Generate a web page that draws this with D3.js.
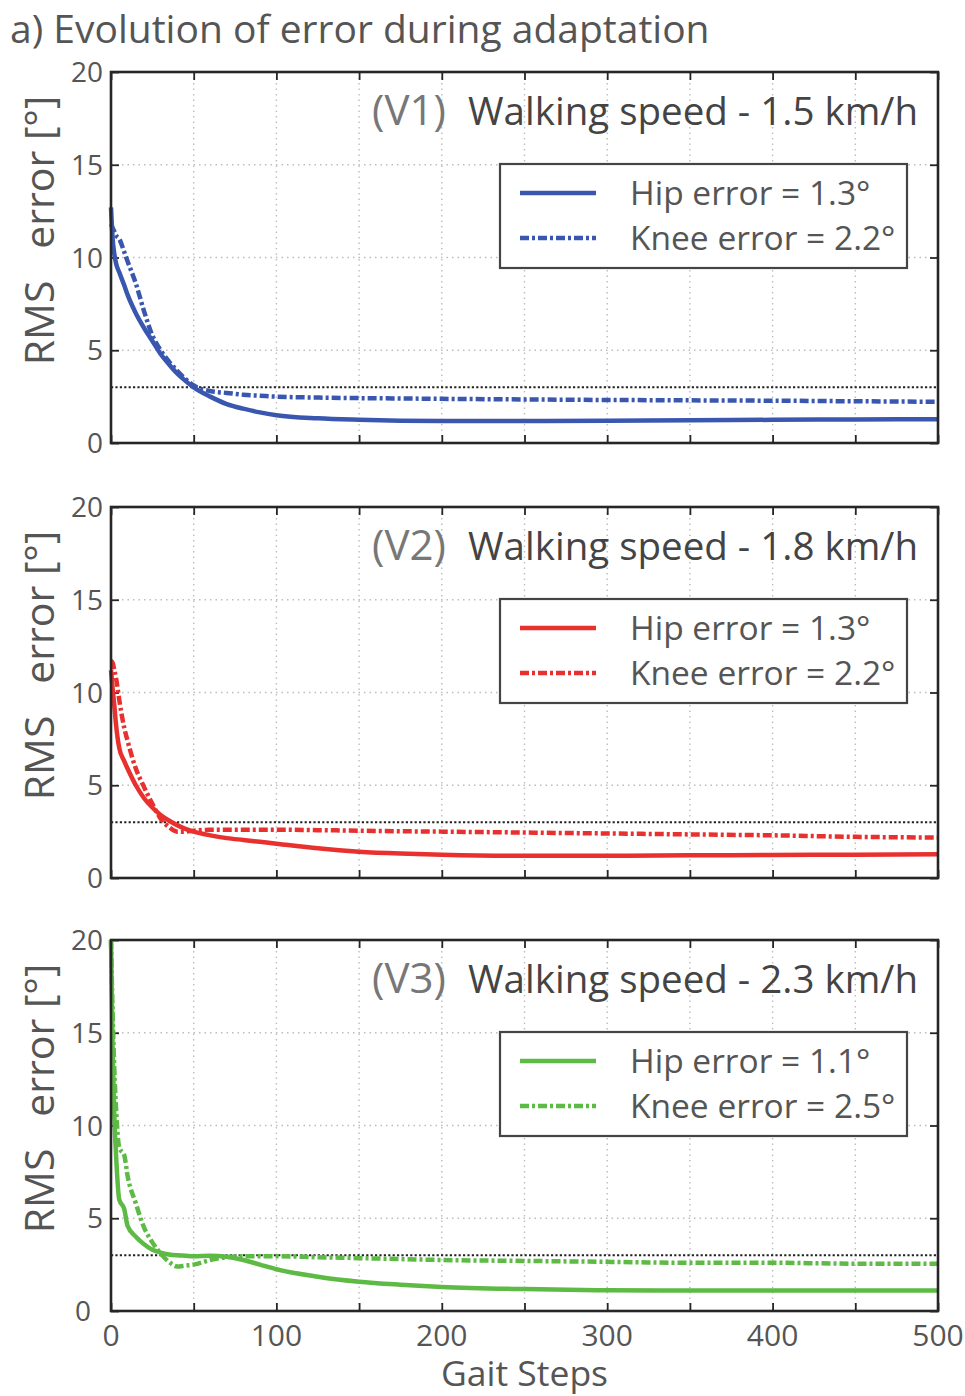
<!DOCTYPE html>
<html>
<head>
<meta charset="utf-8">
<script src="https://cdn.jsdelivr.net/npm/d3@7"></script>
<style>
  html, body { margin: 0; padding: 0; background: #fff; }
  svg { display: block; }
  text { font-family: "Open Sans", "DejaVu Sans", sans-serif; }
</style>
</head>
<body>
<svg id="chart" width="965" height="1396"></svg>
<script>
// Gait steps at which the RMS error was sampled
const steps = [0, 1, 2, 3, 5, 8, 10, 15, 20, 25, 30, 35, 40, 45, 50, 60, 70, 80, 90, 100,
               125, 150, 175, 200, 250, 300, 350, 400, 450, 500];

// V1 — 1.5 km/h
const v1Hip  = [12.7, 11.0, 10.2, 9.7, 9.2, 8.5, 8.0, 7.0, 6.2, 5.5, 4.8, 4.25, 3.75, 3.35, 3.0,
                2.5, 2.1, 1.85, 1.65, 1.5, 1.33, 1.25, 1.2, 1.18, 1.18, 1.2, 1.22, 1.25, 1.27, 1.28];
const v1Knee = [11.8, 11.6, 11.4, 11.2, 11.0, 10.3, 9.8, 8.6, 7.1, 5.8, 5.0, 4.4, 3.9, 3.45, 3.1,
                2.8, 2.7, 2.6, 2.55, 2.5, 2.45, 2.42, 2.4, 2.38, 2.35, 2.32, 2.3, 2.28, 2.25, 2.22];

// V2 — 1.8 km/h
const v2Hip  = [11.2, 10.2, 9.3, 8.3, 7.0, 6.3, 5.9, 5.0, 4.3, 3.8, 3.4, 3.1, 2.85, 2.65, 2.5,
                2.3, 2.15, 2.05, 1.95, 1.85, 1.6, 1.42, 1.32, 1.26, 1.2, 1.2, 1.22, 1.24, 1.26, 1.28];
const v2Knee = [11.7, 11.6, 11.2, 10.8, 9.6, 8.1, 7.4, 5.9, 4.9, 4.0, 3.2, 2.75, 2.5, 2.5, 2.55,
                2.6, 2.6, 2.6, 2.6, 2.6, 2.58, 2.55, 2.52, 2.5, 2.45, 2.4, 2.35, 2.3, 2.22, 2.18];

// V3 — 2.3 km/h
const v3Hip  = [20.0, 14.0, 10.5, 8.5, 6.0, 5.5, 4.6, 4.0, 3.6, 3.3, 3.15, 3.05, 3.0, 2.98, 2.95,
                2.98, 2.92, 2.75, 2.5, 2.25, 1.85, 1.58, 1.42, 1.3, 1.18, 1.12, 1.1, 1.1, 1.1, 1.1];
const v3Knee = [20.0, 16.0, 13.0, 11.0, 8.8, 8.4, 7.3, 5.8, 4.5, 3.7, 3.1, 2.65, 2.4, 2.45, 2.5,
                2.75, 2.9, 2.95, 2.95, 2.95, 2.9, 2.85, 2.8, 2.75, 2.7, 2.65, 2.6, 2.6, 2.55, 2.55];

const panelIds   = ["(V1)", "(V2)", "(V3)"];
const speeds     = ["Walking speed - 1.5 km/h", "Walking speed - 1.8 km/h", "Walking speed - 2.3 km/h"];
const hipFinal   = ["1.3", "1.3", "1.1"];
const kneeFinal  = ["2.2", "2.2", "2.5"];
const seriesHip  = [v1Hip, v2Hip, v3Hip];
const seriesKnee = [v1Knee, v2Knee, v3Knee];
const colors     = ["#3a57b0", "#e8302f", "#5dba44"];

const threshold   = 3;
const xTickValues = d3.range(0, 501, 50);
const xLabelTicks = [0, 100, 200, 300, 400, 500];
const yTickValues = [0, 5, 10, 15, 20];

const titleText = "a) Evolution of error during adaptation";
const xTitle    = "Gait Steps";
const yTitle    = "RMS   error [°]";

// ---- layout ----
const svg = d3.select("#chart");
const left = 111, right = 938;
const panelTops = [72, 507, 940];
const panelH = 371;
const ink = "#555";
const frame = "#262626";

const x = d3.scaleLinear().domain([0, 500]).range([left, right]);

svg.append("text")
  .attr("x", 10).attr("y", 43)
  .attr("font-size", 39).attr("fill", ink)
  .text(titleText);

panelTops.forEach((top, i) => {
  const y = d3.scaleLinear().domain([0, 20]).range([top + panelH, top]);
  const g = svg.append("g");

  // dotted grid
  const grid = g.append("g")
    .attr("stroke", "#bdbdbd").attr("stroke-width", 1.4)
    .attr("stroke-dasharray", "1.5,4");
  grid.selectAll("line.v").data(xTickValues.filter(v => v > 0 && v < 500)).join("line")
    .attr("x1", d => x(d)).attr("x2", d => x(d))
    .attr("y1", top).attr("y2", top + panelH);
  grid.selectAll("line.h").data(yTickValues.filter(v => v > 0 && v < 20)).join("line")
    .attr("class", "h")
    .attr("x1", left).attr("x2", right)
    .attr("y1", d => y(d)).attr("y2", d => y(d));

  // inward ticks on all four sides
  const tickLen = 8;
  const axB = d3.axisBottom(x).tickValues(xTickValues).tickSizeInner(-tickLen).tickSizeOuter(0).tickFormat("");
  const axT = d3.axisTop(x).tickValues(xTickValues).tickSizeInner(-tickLen).tickSizeOuter(0).tickFormat("");
  const axL = d3.axisLeft(y).tickValues(yTickValues).tickSizeInner(-tickLen).tickSizeOuter(0).tickFormat("");
  const axR = d3.axisRight(y).tickValues(yTickValues).tickSizeInner(-tickLen).tickSizeOuter(0).tickFormat("");
  [[axB, `translate(0,${top + panelH})`], [axT, `translate(0,${top})`],
   [axL, `translate(${left},0)`], [axR, `translate(${right},0)`]].forEach(([ax, tr]) => {
    const a = g.append("g").attr("transform", tr).call(ax);
    a.select(".domain").remove();
    a.selectAll("line").attr("stroke", frame).attr("stroke-width", 1.8);
  });

  // threshold line
  g.append("line")
    .attr("x1", left).attr("x2", right)
    .attr("y1", y(threshold)).attr("y2", y(threshold))
    .attr("stroke", "#222").attr("stroke-width", 2)
    .attr("stroke-dasharray", "2.2,2.2");

  // error curves
  const line = d3.line()
    .x((d, k) => x(steps[k]))
    .y(d => y(d))
    .curve(d3.curveMonotoneX);

  g.append("path").datum(seriesKnee[i])
    .attr("d", line).attr("fill", "none")
    .attr("stroke", colors[i]).attr("stroke-width", 4.5)
    .attr("stroke-dasharray", "9,3,3,3");
  g.append("path").datum(seriesHip[i])
    .attr("d", line).attr("fill", "none")
    .attr("stroke", colors[i]).attr("stroke-width", 4.5);

  // frame
  g.append("rect")
    .attr("x", left).attr("y", top)
    .attr("width", right - left).attr("height", panelH)
    .attr("fill", "none").attr("stroke", frame).attr("stroke-width", 2.6);

  // y tick labels
  g.selectAll("text.yl").data(yTickValues).join("text")
    .attr("x", 103).attr("y", d => y(d) + 10)
    .attr("text-anchor", "end").attr("font-size", 28).attr("fill", ink)
    .attr("dx", d => (i === 2 && d === 0) ? -12 : 0)
    .text(d => d);

  // y title
  g.append("text")
    .attr("transform", `translate(54,${top + panelH / 2 - 27}) rotate(-90)`)
    .attr("text-anchor", "middle").attr("font-size", 41).attr("fill", ink)
    .style("white-space", "pre")
    .text(yTitle);

  // panel label
  g.append("text")
    .attr("x", 372).attr("y", top + 53)
    .attr("font-size", 42).attr("fill", "#777")
    .text(panelIds[i]);
  g.append("text")
    .attr("x", 918).attr("y", top + 53)
    .attr("text-anchor", "end").attr("font-size", 38.5).attr("fill", "#444")
    .text(speeds[i]);

  // legend
  const lg = g.append("g");
  lg.append("rect")
    .attr("x", 500).attr("y", top + 92)
    .attr("width", 407).attr("height", 104)
    .attr("fill", "#fff").attr("stroke", "#444").attr("stroke-width", 2.2);
  const rows = [
    { label: `Hip error = ${hipFinal[i]}°`, dash: null, dy: 121 },
    { label: `Knee error = ${kneeFinal[i]}°`, dash: "9,3,3,3", dy: 166 }
  ];
  rows.forEach(r => {
    lg.append("line")
      .attr("x1", 520).attr("x2", 596)
      .attr("y1", top + r.dy).attr("y2", top + r.dy)
      .attr("stroke", colors[i]).attr("stroke-width", 4.5)
      .attr("stroke-dasharray", r.dash);
    lg.append("text")
      .attr("x", 630).attr("y", top + r.dy + 12)
      .attr("font-size", 33.5).attr("fill", ink)
      .text(r.label);
  });

  // x tick labels and title on the bottom panel only
  if (i === 2) {
    g.selectAll("text.xl").data(xLabelTicks).join("text")
      .attr("x", d => x(d)).attr("y", top + panelH + 35)
      .attr("text-anchor", "middle").attr("font-size", 30).attr("fill", ink)
      .text(d => d);
    g.append("text")
      .attr("x", x(250)).attr("y", 1386)
      .attr("text-anchor", "middle").attr("font-size", 35.5).attr("fill", ink)
      .text(xTitle);
  }
});
</script>
</body>
</html>
